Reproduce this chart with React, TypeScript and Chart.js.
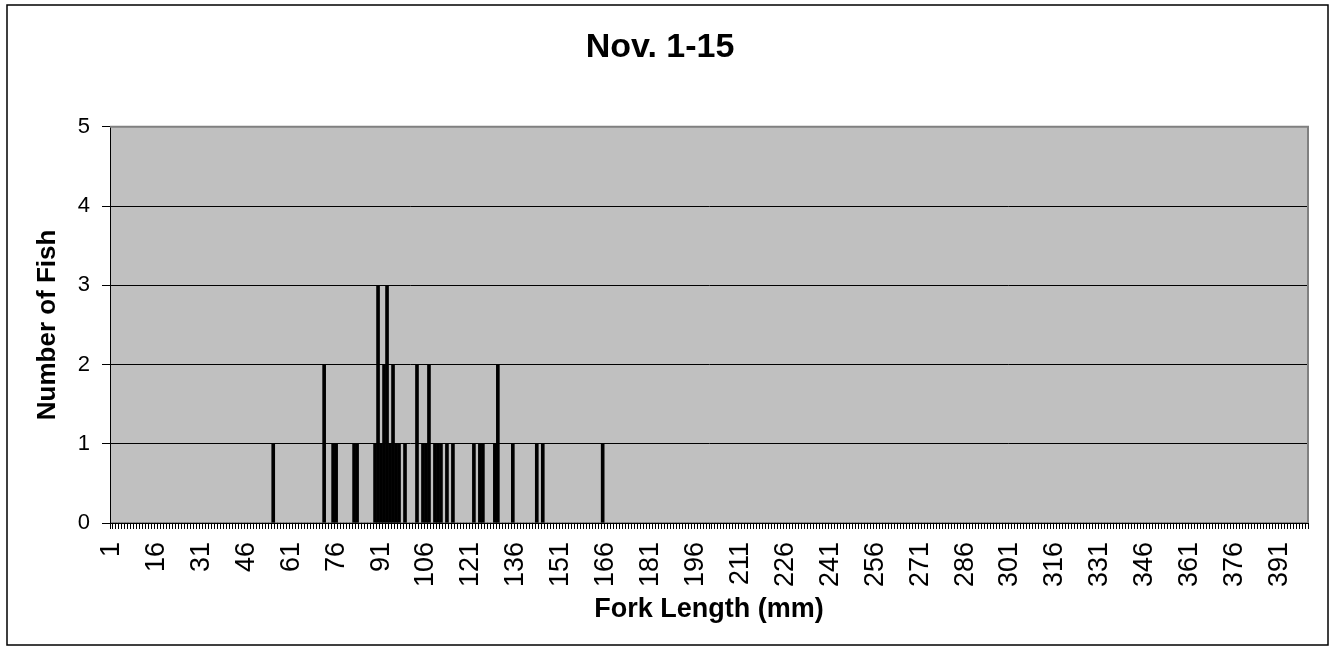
import React, { useEffect, useRef } from 'react';
import { Chart, registerables } from 'chart.js';

Chart.register(...registerables);

const chartTitle = 'Nov. 1-15';
const xAxisTitle = 'Fork Length (mm)';
const yAxisTitle = 'Number of Fish';

// 1 mm length classes from 1 to 400 mm
const binCount = 400;
const forkLengths: string[] = Array.from({ length: binCount }, (_, i) => String(i + 1));

// Lengths (mm) at which fish were caught, and how many at each length
const observedLengths = [55, 72, 75, 76, 82, 83, 89, 90, 91, 92, 93, 94, 95, 96, 97, 99, 103, 105, 106, 107, 109, 110, 111, 113, 115, 122, 124, 125, 129, 130, 135, 143, 145, 165];
const fishCounts = [1, 2, 1, 1, 1, 1, 1, 3, 1, 2, 3, 1, 2, 1, 1, 1, 2, 1, 1, 2, 1, 1, 1, 1, 1, 1, 1, 1, 1, 2, 1, 1, 1, 1];

const yMin = 0;
const yMax = 5;
const yStep = 1;
const labelEvery = 15;

const FONT = 'Liberation Sans, Arial, Helvetica, sans-serif';

// full series over every length class (no fish = 0)
const countsByLength: number[] = forkLengths.map((len) => {
  const k = observedLengths.indexOf(Number(len));
  return k >= 0 ? fishCounts[k] : 0;
});

const framePlugin = {
  id: 'excelFrame',
  beforeDraw(chart: any) {
    const { ctx, chartArea: a, width, height } = chart;
    ctx.save();
    ctx.fillStyle = '#ffffff';
    ctx.fillRect(0, 0, width, height);
    ctx.fillStyle = '#c0c0c0';
    ctx.fillRect(a.left, a.top, a.right - a.left, a.bottom - a.top);
    ctx.restore();
  },
  afterDraw(chart: any) {
    const { ctx, chartArea: a } = chart;
    ctx.save();
    // plot area border (top and right)
    ctx.strokeStyle = '#808080';
    ctx.lineWidth = 2;
    ctx.beginPath();
    ctx.moveTo(a.left, a.top);
    ctx.lineTo(a.right, a.top);
    ctx.lineTo(a.right, a.bottom);
    ctx.stroke();
    // outer chart border
    ctx.strokeStyle = '#000000';
    ctx.lineWidth = 1.5;
    ctx.strokeRect(7, 5, 1321, 640);
    ctx.restore();
  },
};

export default function App() {
  const canvasRef = useRef<HTMLCanvasElement | null>(null);

  useEffect(() => {
    const canvas = canvasRef.current;
    if (!canvas) return;
    const chart = new Chart(canvas, {
      type: 'bar',
      data: {
        labels: forkLengths,
        datasets: [
          {
            data: countsByLength,
            backgroundColor: '#000000',
            borderWidth: 0,
            categoryPercentage: 1,
            barPercentage: 1,
          },
        ],
      },
      options: {
        responsive: false,
        animation: false,
        events: [],
        layout: { padding: { left: 12, right: 25, top: 0, bottom: 0 } },
        plugins: {
          legend: { display: false },
          tooltip: { enabled: false },
          title: {
            display: true,
            text: chartTitle,
            color: '#000000',
            font: { family: FONT, size: 34, weight: 'bold' },
            padding: { top: 27, bottom: 59 },
          },
        },
        scales: {
          x: {
            type: 'category',
            offset: true,
            afterFit(scale: any) {
              scale.height = 130;
              scale.paddingLeft = 0;
              scale.paddingRight = 0;
            },
            grid: {
              offset: true,
              drawOnChartArea: false,
              drawTicks: true,
              tickLength: 6,
              color: '#000000',
              lineWidth: 1,
            },
            border: { display: true, color: '#000000', width: 1 },
            ticks: {
              autoSkip: false,
              minRotation: 90,
              maxRotation: 90,
              padding: 13,
              color: '#000000',
              font: { family: FONT, size: 27 },
              callback: (_v: any, i: number) => (i % labelEvery === 0 ? forkLengths[i] : ''),
            },
            title: {
              display: true,
              text: xAxisTitle,
              color: '#000000',
              font: { family: FONT, size: 27, weight: 'bold' },
              padding: { top: 0, bottom: 27 },
            },
          },
          y: {
            min: yMin,
            max: yMax,
            afterFit(scale: any) {
              scale.width = 98;
            },
            grid: {
              drawTicks: true,
              tickLength: 8,
              color: (c: any) => (c.tick && c.tick.value === yMax ? 'rgba(0,0,0,0)' : '#000000'),
              tickColor: '#000000',
              lineWidth: 1,
            },
            border: { display: true, color: '#000000', width: 1 },
            ticks: {
              stepSize: yStep,
              padding: 12,
              color: '#000000',
              font: { family: FONT, size: 22 },
            },
            title: {
              display: true,
              text: yAxisTitle,
              color: '#000000',
              font: { family: FONT, size: 26, weight: 'bold' },
              padding: { top: 20, bottom: 0 },
            },
          },
        },
      },
      plugins: [framePlugin],
    });
    return () => chart.destroy();
  }, []);

  return (
    <div style={{ position: 'absolute', left: 0, top: 0, width: 1333, height: 653, background: '#ffffff' }}>
      <canvas ref={canvasRef} width={1333} height={653} style={{ display: 'block' }} />
    </div>
  );
}
